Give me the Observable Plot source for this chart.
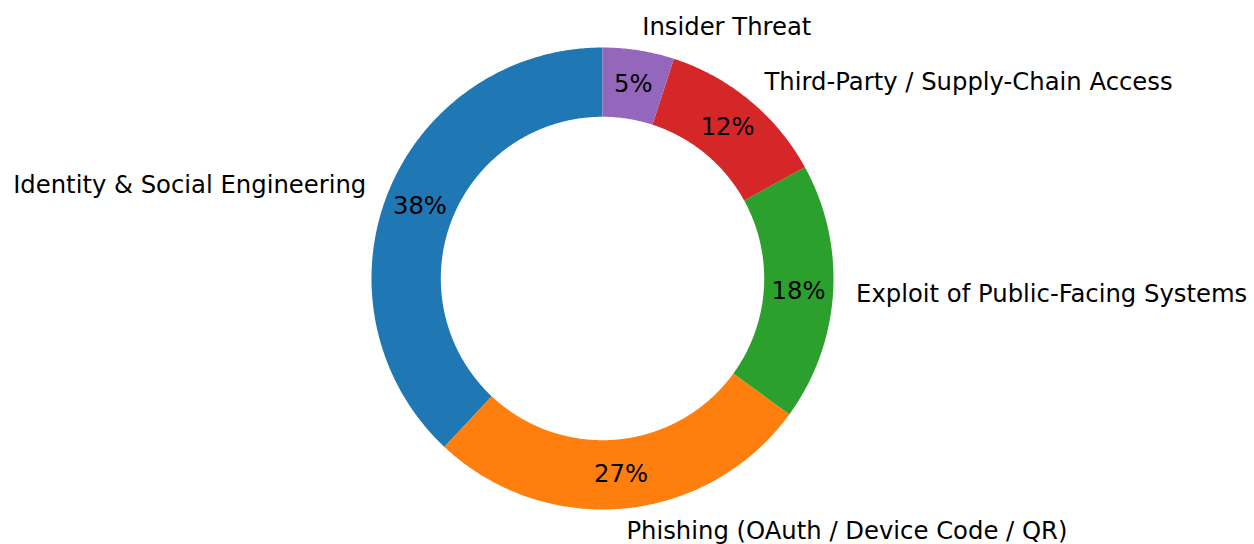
<!DOCTYPE html>
<html>
<head>
<meta charset="utf-8">
<script src="https://cdn.jsdelivr.net/npm/d3@7"></script>
<script src="https://cdn.jsdelivr.net/npm/@observablehq/plot@0.6"></script>
<style>
  html, body { margin: 0; padding: 0; background: #fff; }
  svg { display: block; }
</style>
</head>
<body>
<div id="chart"></div>
<script>
// ---- data ----
const categories = [
  "Identity & Social Engineering",
  "Phishing (OAuth / Device Code / QR)",
  "Exploit of Public-Facing Systems",
  "Third-Party / Supply-Chain Access",
  "Insider Threat"
];
const shares = [38, 27, 18, 12, 5];
const sliceColors = ["#1f77b4", "#ff7f0e", "#2ca02c", "#d62728", "#9467bd"];

// ---- layout ----
const W = 1254, H = 544;
const CX = 602, CY = 278, R = 231;     // pixel center and outer radius
const INNER = 0.7, LABEL_R = 1.1, PCT_R = 0.85;
const START = 90;                      // degrees, counter-clockwise
const FONT = 24.3;

const total = d3.sum(shares);
let cum = 0;
const slices = categories.map((label, i) => {
  const a0 = START + 360 * cum / total;
  cum += shares[i];
  const a1 = START + 360 * cum / total;
  return {label, value: shares[i], a0, a1, mid: (a0 + a1) / 2};
});

const rad = d => d * Math.PI / 180;

// ring polygon outline for each slice (outer arc then inner arc back)
const ringPts = [];
for (const s of slices) {
  const n = Math.max(2, Math.ceil((s.a1 - s.a0) / 0.5));
  for (let k = 0; k <= n; k++) {
    const a = rad(s.a0 + (s.a1 - s.a0) * k / n);
    ringPts.push({label: s.label, x: Math.cos(a), y: Math.sin(a)});
  }
  for (let k = n; k >= 0; k--) {
    const a = rad(s.a0 + (s.a1 - s.a0) * k / n);
    ringPts.push({label: s.label, x: INNER * Math.cos(a), y: INNER * Math.sin(a)});
  }
}

const outerLabels = slices.map(s => ({
  label: s.label,
  x: LABEL_R * Math.cos(rad(s.mid)),
  y: LABEL_R * Math.sin(rad(s.mid))
}));
const pctLabels = slices.map(s => ({
  text: `${Math.round(100 * s.value / total)}%`,
  x: PCT_R * Math.cos(rad(s.mid)),
  y: PCT_R * Math.sin(rad(s.mid))
}));

const chart = Plot.plot({
  width: W,
  height: H,
  margin: 0,
  x: {domain: [-CX / R, (W - CX) / R], axis: null},
  y: {domain: [-(H - CY) / R, CY / R], axis: null},
  color: {domain: categories, range: sliceColors},
  style: {fontFamily: "'DejaVu Sans', sans-serif", background: "#fff"},
  marks: [
    Plot.line(ringPts, {x: "x", y: "y", z: "label", fill: "label", stroke: "none", curve: "linear"}),
    Plot.text(outerLabels.filter(d => d.x >= 0), {x: "x", y: "y", text: "label", textAnchor: "start", fontSize: FONT, fill: "#000"}),
    Plot.text(outerLabels.filter(d => d.x < 0), {x: "x", y: "y", text: "label", textAnchor: "end", fontSize: FONT, fill: "#000"}),
    Plot.text(pctLabels, {x: "x", y: "y", text: "text", fontSize: FONT, fill: "#000"})
  ]
});
document.getElementById("chart").appendChild(chart);
</script>
</body>
</html>
